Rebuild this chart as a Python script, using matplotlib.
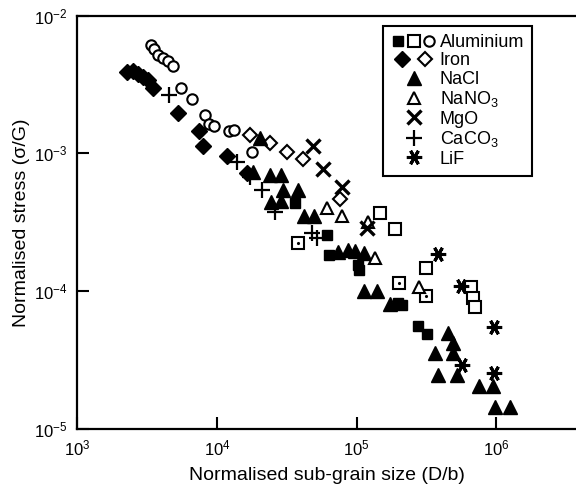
import numpy as np
import matplotlib
matplotlib.use('Agg')
import matplotlib.pyplot as plt
from matplotlib.legend_handler import HandlerTuple
from matplotlib.lines import Line2D

plt.rcParams['font.family'] = ['Liberation Sans', 'DejaVu Sans']

# aluminium - three data sets (filled square, open square, open circle)
al_sq_x = [36300, 61600, 63700, 102600, 104500, 198600, 212000, 276000, 320000]
al_sq_y = [4.38e-4, 2.56e-4, 1.83e-4, 1.55e-4, 1.43e-4, 8.22e-5, 7.96e-5, 5.60e-5, 4.90e-5]
al_open_sq_x = [38200, 147500, 188900, 314800, 201800, 314800, 660700, 683900, 706300]
al_open_sq_y = [2.24e-4, 3.70e-4, 2.83e-4, 1.48e-4, 1.15e-4, 9.25e-5, 1.07e-4, 8.94e-5, 7.69e-5]
# open squares that carry a dot in the middle
al_dot_x = [38200, 201800, 314800]
al_dot_y = [2.24e-4, 1.15e-4, 9.25e-5]
al_circ_x = [3390, 3560, 3800, 4130, 4480, 4860, 5550, 6650, 8240, 8810, 9570, 12250, 13300, 17900]
al_circ_y = [6.12e-3, 5.73e-3, 5.19e-3, 4.93e-3, 4.69e-3, 4.31e-3, 2.99e-3, 2.48e-3,
             1.90e-3, 1.64e-3, 1.58e-3, 1.46e-3, 1.48e-3, 1.03e-3]

# iron - filled and open diamonds
fe_x = [2280, 2520, 2740, 2970, 3220, 3500, 5280, 7470, 7970, 11860, 16480]
fe_y = [3.90e-3, 3.97e-3, 3.77e-3, 3.59e-3, 3.41e-3, 2.99e-3, 1.97e-3, 1.46e-3, 1.13e-3, 9.59e-4, 7.22e-4]
fe_open_x = [17300, 24100, 31900, 41500, 76300]
fe_open_y = [1.36e-3, 1.19e-3, 1.03e-3, 9.13e-4, 4.68e-4]

# NaCl
nacl_x = [20400, 18200, 24100, 28800, 29800, 38200, 24500, 28800, 42200, 49700,
          73900, 87100, 97700, 113300, 113300, 140300, 174000,
          452600, 491300, 365600, 491300, 383800, 524800, 755100, 950600, 981800, 1258900]
nacl_y = [1.29e-3, 7.34e-4, 6.98e-4, 6.98e-4, 5.43e-4, 5.43e-4, 4.45e-4, 4.52e-4, 3.52e-4, 3.52e-4,
          1.93e-4, 1.99e-4, 1.96e-4, 1.90e-4, 1.00e-4, 1.00e-4, 8.09e-5,
          4.98e-5, 4.22e-5, 3.57e-5, 3.57e-5, 2.47e-5, 2.47e-5, 2.06e-5, 2.06e-5, 1.45e-5, 1.45e-5]

# NaNO3
nano3_x = [61600, 78900, 121100, 135800, 280500]
nano3_y = [4.03e-4, 3.52e-4, 3.18e-4, 1.74e-4, 1.07e-4]

# MgO
mgo_x = [48900, 57700, 78900, 119100]
mgo_y = [1.13e-3, 7.72e-4, 5.71e-4, 2.88e-4]

# CaCO3
caco3_x = [4560, 13970, 17300, 21100, 26100, 48100, 52200]
caco3_y = [2.66e-3, 8.68e-4, 6.75e-4, 5.43e-4, 3.76e-4, 2.65e-4, 2.44e-4]

# LiF
lif_x = [383800, 561000, 966000, 570200, 966000]
lif_y = [1.87e-4, 1.09e-4, 5.51e-5, 2.92e-5, 2.55e-5]

lif_marker = (6, 2, 90)

fig = plt.figure(figsize=(5.76, 4.86), dpi=100)
ax = fig.add_axes([0.134, 0.117, 0.866, 0.851])

open_kw = dict(linestyle='none', mfc='white', mec='black', mew=1.5)
fill_kw = dict(linestyle='none', color='black')

ax.plot(al_sq_x, al_sq_y, 's', ms=7.5, **fill_kw)
ax.plot(al_open_sq_x, al_open_sq_y, 's', ms=8, **open_kw)
ax.plot(al_dot_x, al_dot_y, '.', ms=2.5, **fill_kw)
ax.plot(al_circ_x, al_circ_y, 'o', ms=7.5, **open_kw)
ax.plot(fe_x, fe_y, 'D', ms=8.5, **fill_kw)
ax.plot(fe_open_x, fe_open_y, 'D', ms=7.5, **open_kw)
ax.plot(nacl_x, nacl_y, '^', ms=9.5, **fill_kw)
ax.plot(nano3_x, nano3_y, '^', ms=8.5, **open_kw)
ax.plot(mgo_x, mgo_y, 'x', ms=9.5, mew=2.4, **fill_kw)
ax.plot(caco3_x, caco3_y, '+', ms=11, mew=1.6, **fill_kw)
ax.plot(lif_x, lif_y, marker=lif_marker, ms=11, mew=2.2, **fill_kw)

ax.set_xscale('log')
ax.set_yscale('log')
ax.set_xlim(1e3, 10 ** 6.57)
ax.set_ylim(1e-5, 1e-2)

ax.set_xticks([1e3, 1e4, 1e5, 1e6])
ax.set_yticks([1e-5, 1e-4, 1e-3, 1e-2])
ax.minorticks_off()
ax.tick_params(direction='in', length=8.5, width=1.5, labelsize=12, pad=7)
ax.spines['right'].set_visible(False)
for s in ['left', 'bottom', 'top']:
    ax.spines[s].set_linewidth(1.6)

ax.set_xlabel('Normalised sub-grain size (D/b)', fontsize=14, labelpad=6)
ax.set_ylabel('Normalised stress (σ/G)', fontsize=14, labelpad=3)

# legend with grouped markers
h_al = (Line2D([], [], marker='s', ms=7.5, **fill_kw),
        Line2D([], [], marker='s', ms=8, **open_kw),
        Line2D([], [], marker='o', ms=7.5, **open_kw))
h_fe = (Line2D([], [], marker='D', ms=8.5, **fill_kw),
        Line2D([], [], marker='D', ms=7.5, **open_kw))
h_nacl = Line2D([], [], marker='^', ms=9.5, **fill_kw)
h_nano3 = Line2D([], [], marker='^', ms=8.5, **open_kw)
h_mgo = Line2D([], [], marker='x', ms=9.5, mew=2.4, **fill_kw)
h_caco3 = Line2D([], [], marker='+', ms=11, mew=1.6, **fill_kw)
h_lif = Line2D([], [], marker=lif_marker, ms=11, mew=2.2, **fill_kw)

labels = ['Aluminium', 'Iron', 'NaCl', r'NaNO$_{\mathdefault{3}}$', 'MgO',
          r'CaCO$_{\mathdefault{3}}$', 'LiF']
leg = ax.legend([h_al, h_fe, h_nacl, h_nano3, h_mgo, h_caco3, h_lif], labels,
                handler_map={tuple: HandlerTuple(ndivide=None, pad=0.1)},
                loc='upper left', bbox_to_anchor=(0.613, 0.975), fontsize=13,
                frameon=True, fancybox=False, edgecolor='black', framealpha=1,
                handlelength=2.5, handletextpad=0.2, labelspacing=0.08,
                borderpad=0.45, borderaxespad=0)
leg.get_frame().set_linewidth(1.5)

plt.savefig('out.png', dpi=100)
